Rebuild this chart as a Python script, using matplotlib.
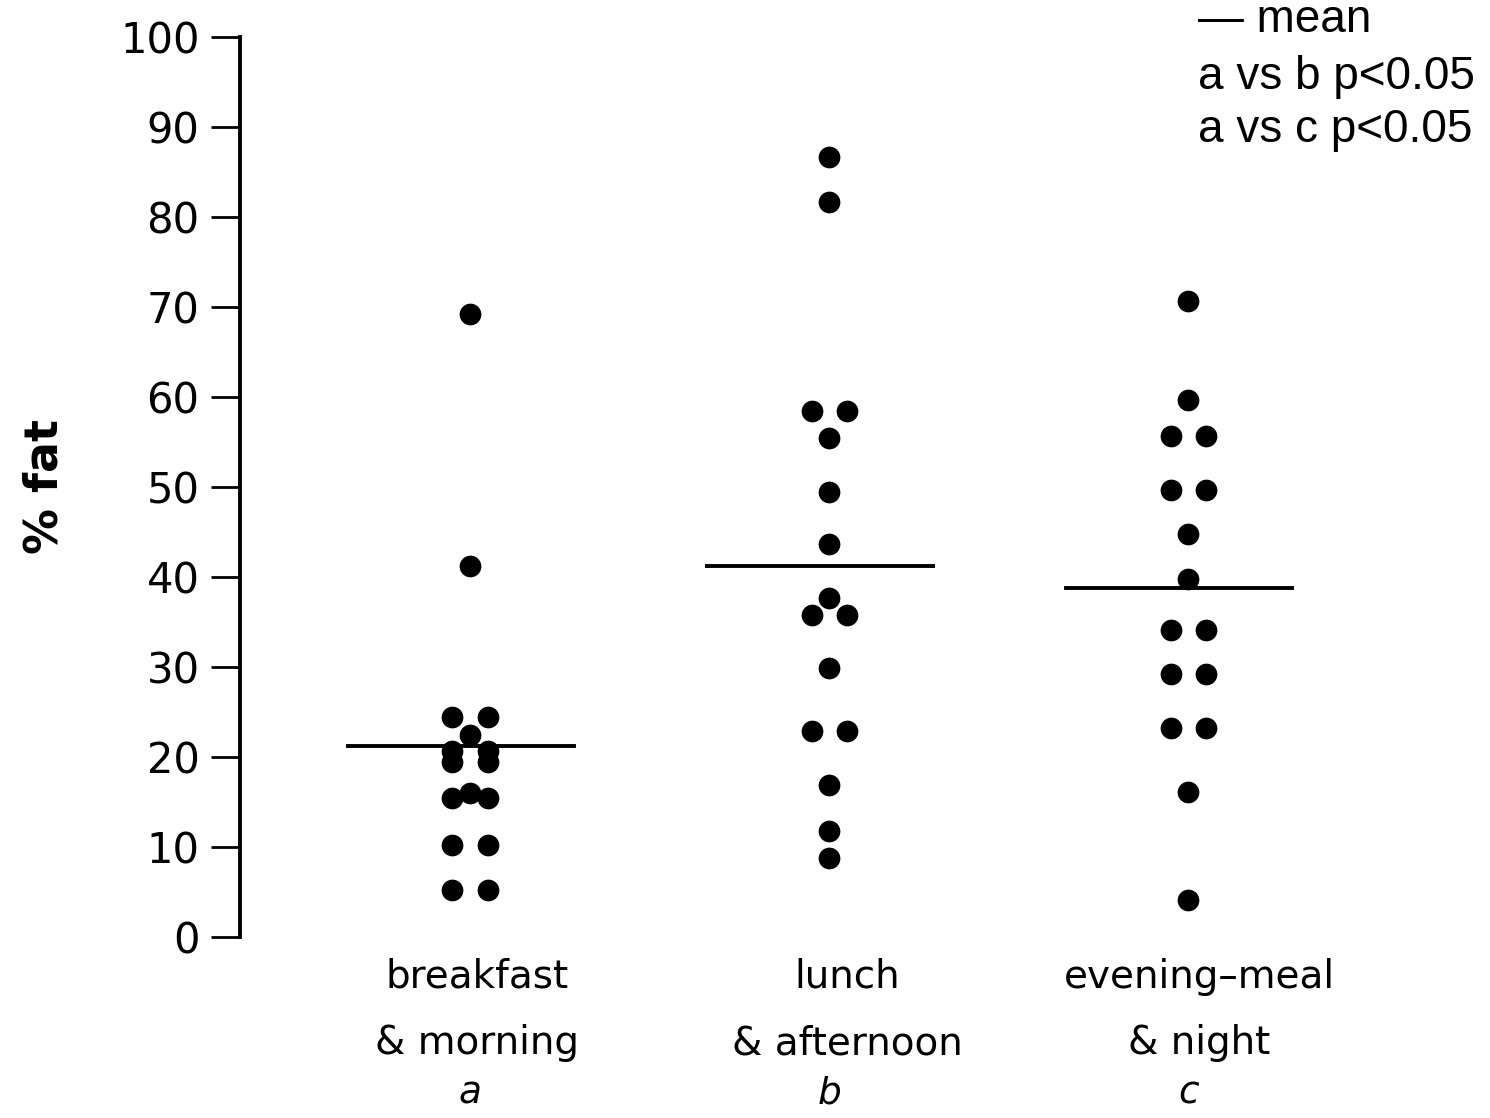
import matplotlib.pyplot as plt
import numpy as np

# % fat per eating occasion
categories = ['breakfast\n& morning', 'lunch\n& afternoon', 'evening\u2013meal\n& night']
letters = ['a', 'b', 'c']
breakfast = [69.2, 41.2, 24.4, 24.4, 22.4, 20.6, 20.6, 19.4, 19.4, 16.0, 15.4, 15.4, 10.2, 10.2, 5.2, 5.2]
lunch = [86.6, 81.6, 58.4, 58.4, 55.4, 49.4, 43.6, 37.7, 35.8, 35.8, 29.9, 22.9, 22.9, 16.9, 11.8, 8.8]
evening = [70.6, 59.6, 55.6, 55.6, 49.7, 49.7, 44.8, 39.8, 34.1, 34.1, 29.2, 29.2, 23.2, 23.2, 16.1, 4.1]
means = [21.2, 41.2, 38.8]
legend_lines = ['\u2014 mean', 'a vs b p<0.05', 'a vs c p<0.05']

fig = plt.figure(figsize=(14.9, 11.18), dpi=100)
ax = fig.add_axes([0.161, 0.162, 0.757, 0.805])

pair_gap = 0.049
for i, vals in enumerate([breakfast, lunch, evening]):
    xc = i + 1
    xs = []
    seen = {}
    for v in vals:
        n = vals.count(v)
        if n == 1:
            xs.append(xc)
        else:
            k = seen.get(v, 0)
            xs.append(xc + (-pair_gap if k == 0 else pair_gap))
            seen[v] = k + 1
    ax.scatter(xs, vals, s=245, color='black', zorder=3, linewidths=0)
    ax.plot([xc - 0.34, xc + 0.29], [means[i], means[i]], color='black', lw=2.8, zorder=2)

ax.set_xlim(0.359, 3.5)
ax.set_ylim(0, 100)

for s in ['top', 'right', 'bottom']:
    ax.spines[s].set_visible(False)
ax.spines['left'].set_linewidth(2.8)

ax.set_yticks(np.arange(0, 101, 10))
ax.tick_params(axis='y', direction='out', length=21, width=2, pad=8, labelsize=30)
ax.set_xticks([1.02, 2.05, 3.03])
ax.set_xticklabels(categories, fontsize=28, linespacing=1.95)
ax.tick_params(axis='x', length=0, pad=15)

for i, l in enumerate(letters):
    ax.annotate(l, xy=(i + 1.0, 0), xycoords=('data', 'figure fraction'),
                xytext=(0, 18), textcoords='offset points',
                ha='center', va='center', fontsize=27, style='italic')

ax.set_ylabel('% fat', fontsize=33, fontweight='bold', va='center')
ax.yaxis.set_label_coords(-0.173, 0.5)

for j, t in enumerate(legend_lines):
    fig.text(1198 / 1490, 1 - [20, 77, 130][j] / 1118, t, ha='left', va='center',
             fontsize=33, family='Liberation Sans')

plt.savefig('out.png', dpi=100)
